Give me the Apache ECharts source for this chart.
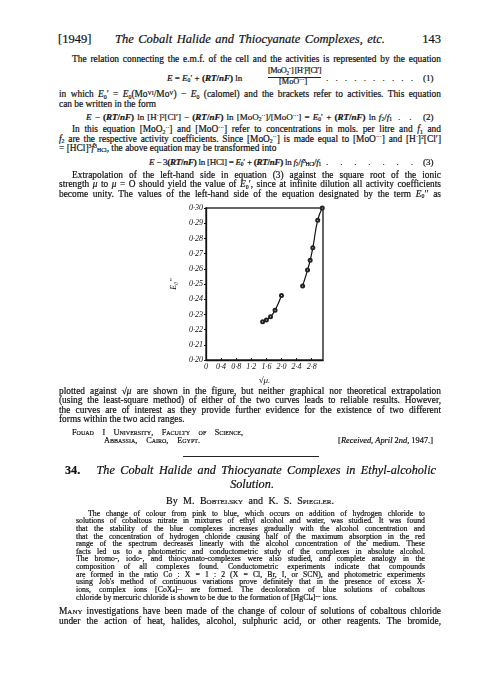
<!DOCTYPE html>
<html><head><meta charset="utf-8">
<script src="https://cdn.jsdelivr.net/npm/echarts@6/dist/echarts.min.js"></script>
<style>
html,body{margin:0;padding:0;background:#fff;}
#page{position:relative;width:500px;height:679px;overflow:hidden;font-family:"Liberation Serif","DejaVu Serif",serif;color:#111;-webkit-text-stroke:0.2px #111;}
.ln{position:absolute;white-space:nowrap;line-height:1;}
.ln sup{font-size:0.62em;position:relative;top:-0.45em;vertical-align:baseline;line-height:0;}
.ln sub{font-size:0.62em;position:relative;top:0.22em;vertical-align:baseline;line-height:0;}
.ab sup{top:-0.3em;font-size:0.6em;}
.ab sub{top:0.1em;font-size:0.6em;}
.sc{font-variant:small-caps;}
i{font-style:italic;}
b{font-weight:bold;}
#chart{position:absolute;left:160px;top:195px;width:175px;height:195px;}
.rule{position:absolute;height:1px;background:#222;}
</style></head>
<body><div id="page"><div id="chart"></div></div>
<script>
// ---- chart data ----
const lowerX = [1.50, 1.60, 1.71, 1.83, 2.00];
const lowerY = [0.2252, 0.2263, 0.2285, 0.2328, 0.2425];
const upperX = [2.56, 2.69, 2.76, 2.83, 2.96, 3.08];
const upperY = [0.2488, 0.2592, 0.2656, 0.2738, 0.2920, 0.3000];
const xTickValues = [0, 0.4, 0.8, 1.2, 1.6, 2.0, 2.4, 2.8];
const xTickLabels = ['0', '0·4', '0·8', '1·2', '1·6', '2·0', '2·4', '2·8'];
const yTickValues = [0.20, 0.21, 0.22, 0.23, 0.24, 0.25, 0.26, 0.27, 0.28, 0.29, 0.30];
const yTickLabels = ['0·20', '0·21', '0·22', '0·23', '0·24', '0·25', '0·26', '0·27', '0·28', '0·29', '0·30'];

function lookup(vals, labels, v) {
  for (let i = 0; i < vals.length; i++) if (Math.abs(vals[i] - v) < 1e-6) return labels[i];
  return '';
}

const chart = echarts.init(document.getElementById('chart'), null, {renderer: 'canvas'});
const axisFont = {fontFamily: 'Liberation Serif', fontStyle: 'italic', fontSize: 8, color: '#111'};
const seriesStyle = {
  type: 'line', smooth: true, symbol: 'emptyCircle', symbolSize: 3, showAllSymbol: true,
  lineStyle: {color: '#111', width: 1.2},
  itemStyle: {color: '#222', borderColor: '#222', borderWidth: 0.6}
};
chart.setOption({
  animation: false,
  backgroundColor: 'transparent',
  grid: {left: 46, top: 13, width: 117, height: 156, show: true, borderColor: '#333', borderWidth: 1.5, backgroundColor: 'transparent'},
  xAxis: {
    type: 'value', min: 0, max: 3.1, interval: 0.4,
    axisLine: {show: true, lineStyle: {color: '#111', width: 1.3}},
    axisTick: {show: true, inside: true, length: 2, lineStyle: {color: '#111'}},
    splitLine: {show: false},
    axisLabel: Object.assign({margin: 3, showMaxLabel: false, formatter: v => lookup(xTickValues, xTickLabels, v)}, axisFont),
    name: '√μ.', nameLocation: 'middle', nameGap: 11,
    nameTextStyle: {fontFamily: 'Liberation Serif', fontStyle: 'italic', fontSize: 9, color: '#111'}
  },
  yAxis: {
    type: 'value', min: 0.20, max: 0.30, interval: 0.01,
    axisLine: {show: true, lineStyle: {color: '#111', width: 1.3}},
    axisTick: {show: true, inside: false, length: 2, lineStyle: {color: '#111'}},
    splitLine: {show: false},
    axisLabel: Object.assign({margin: 3, formatter: v => lookup(yTickValues, yTickLabels, v)}, axisFont),
    name: 'E₀′′', nameLocation: 'middle', nameGap: 18, nameRotate: 90,
    nameTextStyle: {fontFamily: 'Liberation Serif', fontStyle: 'italic', fontSize: 8, color: '#111'}
  },
  series: [
    Object.assign({}, seriesStyle, {data: lowerX.map((x, i) => [x, lowerY[i]])}),
    Object.assign({}, seriesStyle, {data: upperX.map((x, i) => [x, upperY[i]])})
  ]
});

// ---- page text ----
const page = document.getElementById('page');
function addLine(html, x, y, w, opts) {
  opts = opts || {};
  const fs = opts.fs || 9.4;
  const d = document.createElement('div');
  d.className = 'ln' + (opts.cls ? ' ' + opts.cls : '');
  d.style.left = x + 'px';
  d.style.fontSize = fs + 'px';
  d.style.top = (y - fs * 0.61) + 'px';
  d.innerHTML = html;
  page.appendChild(d);
  if (w) {
    const nat = d.getBoundingClientRect().width;
    const txt = d.textContent;
    const spaces = (txt.match(/[ \u00a0]/g) || []).length;
    if (nat > w) {
      d.style.letterSpacing = ((w - nat) / txt.length) + 'px';
    } else if (opts.justify !== false && spaces) {
      d.style.wordSpacing = ((w - nat) / spaces) + 'px';
    }
  }
  return d;
}
function addRight(html, xr, y, opts) {
  const d = addLine(html, 0, y, 0, opts);
  d.style.left = (xr - d.getBoundingClientRect().width) + 'px';
  return d;
}
function addCenter(html, xc, y, opts) {
  const d = addLine(html, 0, y, 0, opts);
  d.style.left = (xc - d.getBoundingClientRect().width / 2) + 'px';
  return d;
}
function addRule(x, y, w, h) {
  const r = document.createElement('div');
  r.className = 'rule';
  r.style.left = x + 'px'; r.style.top = y + 'px'; r.style.width = w + 'px'; r.style.height = h + 'px';
  page.appendChild(r);
}

const L = 59, R = 441, W = R - L;
// header
addLine('[1949]', 58, 41, 0, {fs: 12.5});
addLine('<i>The Cobalt Halide and Thiocyanate Complexes, etc.</i>', 115, 41, 270, {fs: 12.5});
addRight('143', 441, 41, {fs: 12.5});

addLine('The relation connecting the e.m.f. of the cell and the activities is represented by the equation', 72, 61, R - 72);
// eq 1
addLine('<i>E</i> = <i>E</i><sub>0</sub>′ + <b>(<i>RT</i>/<i>nF</i>)</b> ln', 167, 79, 0, {fs: 9});
addLine('[MoO<sub>2</sub><sup>··</sup>] [H<sup>·</sup>]<sup>2</sup>[Cl′]', 268, 72.5, 53, {fs: 8.3});
addRule(268, 77, 53, 0.8);
addLine('[MoO<sup>···</sup>]', 279, 83.5, 0, {fs: 8.3});
addLine('.&nbsp;&nbsp;&nbsp;.&nbsp;&nbsp;&nbsp;.&nbsp;&nbsp;&nbsp;.&nbsp;&nbsp;&nbsp;.&nbsp;&nbsp;&nbsp;.&nbsp;&nbsp;&nbsp;.&nbsp;&nbsp;&nbsp;.&nbsp;&nbsp;&nbsp;.&nbsp;&nbsp;&nbsp;.', 326, 79, 87, {fs: 9});
addLine('(1)', 423, 79, 0, {fs: 9});

addLine('in which <i>E</i><sub>0</sub>′ = <i>E</i><sub>0</sub>(Mo<sup>VI</sup>/Mo<sup>V</sup>) − <i>E</i><sub>0</sub> (calomel) and the brackets refer to activities. This equation', L, 96, W);
addLine('can be written in the form', L, 106, 0);
// eq 2
addLine('<i>E</i> − <b>(<i>RT</i>/<i>nF</i>)</b> ln [H<sup>·</sup>]<sup>2</sup>[Cl′] − <b>(<i>RT</i>/<i>nF</i>)</b> ln [MoO<sub>2</sub><sup>··</sup>]/[MoO<sup>···</sup>] = <i>E</i><sub>0</sub>′ + <b>(<i>RT</i>/<i>nF</i>)</b> ln <i>f</i><sub>2</sub>/<i>f</i><sub>1</sub>', 86, 118.5, 306, {fs: 9});
addLine('.&nbsp;&nbsp;&nbsp;&nbsp;.', 398, 118.5, 0, {fs: 9});
addLine('(2)', 423, 118.5, 0, {fs: 9});

addLine('In this equation [MoO<sub>2</sub><sup>··</sup>] and [MoO<sup>···</sup>] refer to concentrations in mols. per litre and <i>f</i><sub>1</sub> and', 72, 131, R - 72);
addLine('<i>f</i><sub>2</sub> are the respective activity coefficients. Since [MoO<sub>2</sub><sup>··</sup>] is made equal to [MoO<sup>···</sup>] and [H<sup>·</sup>]<sup>2</sup>[Cl′]', L, 140.5, W);
addLine('= [HCl]<sup>3</sup><i>f</i><sup>3</sup><sub>HCl</sub>, the above equation may be transformed into', L, 149.5, 0);
// eq 3
addLine('<i>E</i> − 3<b>(<i>RT</i>/<i>nF</i>)</b> ln [HCl] = <i>E</i><sub>0</sub>′ + <b>(<i>RT</i>/<i>nF</i>)</b> ln <i>f</i><sub>2</sub>/<i>f</i><sup>3</sup><sub>HCl</sub>/<i>f</i><sub>1</sub>', 149, 163.5, 172, {fs: 9});
addLine('.&nbsp;&nbsp;&nbsp;.&nbsp;&nbsp;&nbsp;.&nbsp;&nbsp;&nbsp;.&nbsp;&nbsp;&nbsp;.&nbsp;&nbsp;&nbsp;.&nbsp;&nbsp;&nbsp;.', 326, 163.5, 87, {fs: 9});
addLine('(3)', 423, 163.5, 0, {fs: 9});

addLine('Extrapolation of the left-hand side in equation (3) against the square root of the ionic', 72, 177, R - 72);
addLine('strength <i>μ</i> to <i>μ</i> = O should yield the value of <i>E</i><sub>0</sub>′, since at infinite dilution all activity coefficients', L, 186, W);
addLine('become unity. The values of the left-hand side of the equation designated by the term <i>E</i><sub>0</sub>′′ as', L, 195.5, W);

addLine('plotted against √<i>μ</i> are shown in the figure, but neither graphical nor theoretical extrapolation', L, 393, W);
addLine('(using the least-square method) of either of the two curves leads to reliable results. However,', L, 402, W);
addLine('the curves are of interest as they provide further evidence for the existence of two different', L, 411.5, W);
addLine('forms within the two acid ranges.', L, 421, 0);

addLine('Fouad I University, Faculty of Science,', 72, 434, 171, {cls: 'sc', fs: 8.2});
addLine('Abbassia, Cairo, Egypt.', 104, 442.5, 96, {cls: 'sc', fs: 8.2});
addRight('[<i>Received</i>, <i>April</i> 2<i>nd</i>, 1947.]', 433, 442.5, {fs: 8.4});
addRule(183, 456, 136, 1);

addLine('<b>34.</b>&nbsp;&nbsp; <i>The Cobalt Halide and Thiocyanate Complexes in Ethyl-alcoholic</i>', 65, 471.5, 371, {fs: 12.2});
addCenter('<i>Solution</i>.', 252, 485.5, {fs: 12.2});
addLine('By M. <span class="sc">Bobtelsky</span> and K. S. <span class="sc">Spiegler</span>.', 166, 502, 168, {fs: 10});

const abs = [
  ['The change of colour from pink to blue, which occurs on addition of hydrogen chloride to', 88],
  ['solutions of cobaltous nitrate in mixtures of ethyl alcohol and water, was studied. It was found', 76],
  ['that the stability of the blue complexes increases gradually with the alcohol concentration and', 76],
  ['that the concentration of hydrogen chloride causing half of the maximum absorption in the red', 76],
  ['range of the spectrum decreases linearly with the alcohol concentration of the medium. These', 76],
  ['facts led us to a photometric and conductometric study of the complexes in absolute alcohol.', 76],
  ['The bromo-, iodo-, and thiocyanato-complexes were also studied, and complete analogy in the', 76],
  ['composition of all complexes found. Conductometric experiments indicate that compounds', 76],
  ['are formed in the ratio Co : X = 1 : 2 (X = Cl, Br, I, or SCN), and photometric experiments', 76],
  ['using Job\'s method of continuous variations prove definitely that in the presence of excess X<sup>−</sup>', 76],
  ['ions, complex ions [CoX<sub>4</sub>]<sup>−−</sup> are formed. The decoloration of blue solutions of cobaltous', 76],
  ['chloride by mercuric chloride is shown to be due to the formation of [HgCl<sub>4</sub>]<sup>−−</sup> ions.', 76]
];
const absY = [514.5, 522.1, 529.7, 537.4, 545.0, 552.6, 560.2, 567.8, 575.4, 583.1, 590.7, 598.3];
abs.forEach((a, i) => {
  addLine(a[0], a[1], absY[i], i === abs.length - 1 ? 0 : 425 - a[1], {fs: 7.8, cls: 'ab'});
});

addLine('<span class="sc">Many</span> investigations have been made of the change of colour of solutions of cobaltous chloride', L, 613, W);
addLine('under the action of heat, halides, alcohol, sulphuric acid, or other reagents. The bromide,', L, 622.5, W);
</script>
</body></html>
